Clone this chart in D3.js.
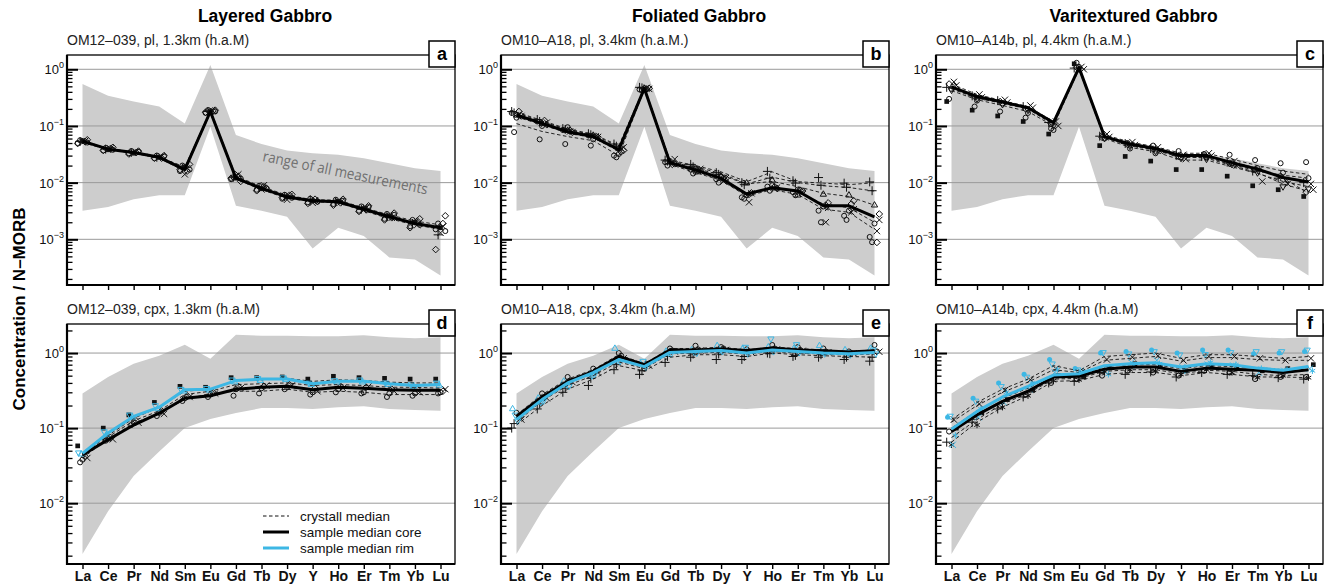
<!DOCTYPE html>
<html>
<head>
<meta charset="utf-8">
<script src="https://cdn.jsdelivr.net/npm/d3@7"></script>
<style>
  body { margin: 0; background: #fff; }
  svg { display: block; font-family: "Liberation Sans", Arial, Helvetica, sans-serif; }
</style>
</head>
<body>
<svg id="chart" width="1328" height="586"></svg>
<script>
// REE pattern, normalised to N-MORB
const elements = ['La', 'Ce', 'Pr', 'Nd', 'Sm', 'Eu', 'Gd', 'Tb', 'Dy', 'Y', 'Ho', 'Er', 'Tm', 'Yb', 'Lu'];
const columnTitles = ['Layered Gabbro', 'Foliated Gabbro', 'Varitextured Gabbro'];
const subtitles = [
  'OM12\u2013039, pl, 1.3km (h.a.M)', 'OM10\u2013A18, pl, 3.4km (h.a.M.)', 'OM10\u2013A14b, pl, 4.4km (h.a.M.)',
  'OM12\u2013039, cpx, 1.3km (h.a.M)', 'OM10\u2013A18, cpx, 3.4km (h.a.M)', 'OM10\u2013A14b, cpx, 4.4km (h.a.M)'
];
const panelLetters = ['a', 'b', 'c', 'd', 'e', 'f'];
const legendLabels = ['crystall median', 'sample median core', 'sample median rim'];

// range of all measurements (grey envelope)
const plUpper = [0.55, 0.34, 0.27, 0.22, 0.11, 1.19, 0.069, 0.048, 0.037, 0.033, 0.031, 0.027, 0.022, 0.018, 0.016];
const plLower = [0.0032, 0.0037, 0.0051, 0.006, 0.006, 0.097, 0.0039, 0.0032, 0.0025, 0.00069, 0.0016, 0.00115, 0.00048, 0.00044, 0.00023];
const cpxUpper = [0.29, 0.48, 0.72, 0.92, 1.29, 0.84, 1.75, 1.7, 1.7, 1.67, 1.67, 1.72, 1.62, 1.57, 1.62];
const cpxLower = [0.0021, 0.0078, 0.023, 0.049, 0.1, 0.132, 0.159, 0.185, 0.185, 0.18, 0.19, 0.195, 0.18, 0.175, 0.17];

// panel a: OM12-039 plagioclase
const aCore = [0.054, 0.039, 0.034, 0.028, 0.017, 0.18, 0.012, 0.0079, 0.0056, 0.0048, 0.0046, 0.0034, 0.0025, 0.0019, 0.0016];
const aCrystals = [
  [0.055, 0.040, 0.035, 0.029, 0.018, 0.19, 0.013, 0.0085, 0.0060, 0.0050, 0.0049, 0.0036, 0.0027, 0.0021, 0.0018],
  [0.051, 0.038, 0.033, 0.027, 0.016, 0.17, 0.0115, 0.0075, 0.0053, 0.0046, 0.0044, 0.0032, 0.0023, 0.0018, 0.0015],
  [0.053, 0.039, 0.034, 0.028, 0.019, 0.18, 0.012, 0.0081, 0.0057, 0.0047, 0.0045, 0.0035, 0.0026, 0.0019, 0.0017]
];
const aSpots = [
  [0.050, 0.037, 0.033, 0.027, 0.016, 0.17, 0.0115, 0.0075, 0.0052, 0.0045, 0.0042, 0.0032, 0.0023, 0.0017, 0.0015],
  [0.056, 0.041, 0.036, 0.030, 0.020, 0.19, 0.0125, 0.0088, 0.0061, 0.0052, 0.0050, 0.0038, 0.0028, 0.0022, 0.0019],
  [0.052, 0.038, 0.034, 0.028, 0.014, 0.18, 0.013, 0.0076, 0.0050, 0.0044, 0.0047, 0.0033, 0.0026, 0.0020, 0.0013],
  [0.054, 0.040, 0.035, 0.029, 0.018, 0.185, 0.014, 0.0090, 0.0058, 0.0049, 0.0045, 0.0036, 0.0024, 0.0018, 0.0017],
  [0.057, 0.042, 0.036, 0.030, 0.021, 0.19, 0.0105, 0.0080, 0.0062, 0.0047, 0.0051, 0.0039, 0.0029, 0.0023, 0.0026],
  [0.049, 0.037, 0.032, 0.027, 0.017, 0.175, 0.0120, 0.0072, 0.0055, 0.0043, 0.0040, 0.0031, 0.0022, 0.0016, 0.00066],
  [0.053, 0.039, 0.034, 0.028, 0.018, 0.18, 0.0125, 0.0082, 0.0057, 0.0050, 0.0046, 0.0034, 0.0025, 0.0019, 0.0012],
  [0.055, 0.038, 0.033, 0.028, 0.019, 0.18, 0.0120, 0.0078, 0.0056, 0.0048, 0.0047, 0.0035, 0.0026, 0.0020, 0.0016],
  [0.053, 0.040, 0.034, 0.027, 0.016, 0.185, 0.0130, 0.0085, 0.0060, 0.0051, 0.0044, 0.0033, 0.0024, 0.0021, 0.0019],
  [0.051, 0.038, 0.035, 0.029, 0.017, 0.18, 0.0118, 0.0079, 0.0054, 0.0046, 0.0048, 0.0037, 0.0027, 0.0018, 0.0014]
];
const aSpotSymbols = ['o', 'o', 'x', 'x', 'd', 'd', '+', 's', 'd', 'o'];

// panel b: OM10-A18 plagioclase
const bCore = [0.156, 0.111, 0.079, 0.065, 0.038, 0.46, 0.0225, 0.0167, 0.012, 0.0063, 0.0081, 0.0071, 0.0039, 0.0039, 0.0025];
const bCrystals = [
  [0.175, 0.125, 0.088, 0.072, 0.045, 0.48, 0.025, 0.020, 0.0155, 0.0104, 0.0155, 0.0104, 0.0098, 0.0092, 0.0100],
  [0.170, 0.120, 0.086, 0.070, 0.043, 0.47, 0.024, 0.019, 0.0145, 0.0095, 0.0125, 0.0100, 0.0088, 0.0082, 0.0071],
  [0.160, 0.115, 0.082, 0.067, 0.040, 0.47, 0.024, 0.018, 0.0135, 0.0095, 0.0105, 0.0085, 0.0065, 0.0057, 0.0040],
  [0.110, 0.080, 0.065, 0.055, 0.030, 0.44, 0.021, 0.015, 0.011, 0.0058, 0.0075, 0.0062, 0.0034, 0.0030, 0.0015],
  [0.145, 0.105, 0.075, 0.062, 0.036, 0.45, 0.022, 0.016, 0.0110, 0.0060, 0.0080, 0.0068, 0.0042, 0.0036, 0.0020]
];
const bSpots = [
  [0.17, 0.12, 0.085, 0.068, 0.030, 0.44, 0.023, 0.017, 0.0115, 0.0055, 0.0085, 0.0068, 0.0032, 0.0026, 0.0011],
  [0.078, 0.058, 0.048, 0.045, 0.028, 0.42, 0.020, 0.0145, 0.010, 0.0052, 0.0072, 0.0060, 0.0020, 0.0022, 0.00089],
  [0.14, 0.10, 0.095, 0.058, 0.032, 0.46, 0.024, 0.0155, 0.0125, 0.0060, 0.0090, 0.0075, 0.0038, 0.0032, 0.0019],
  [0.16, 0.11, 0.08, 0.066, 0.040, 0.47, 0.022, 0.016, 0.0105, 0.0045, 0.0078, 0.0070, 0.0020, 0.0030, 0.0014],
  [0.15, 0.115, 0.078, 0.064, 0.042, 0.45, 0.026, 0.0175, 0.0120, 0.0065, 0.0082, 0.0066, 0.0036, 0.0034, 0.0022],
  [0.18, 0.13, 0.09, 0.073, 0.048, 0.48, 0.025, 0.021, 0.0150, 0.0100, 0.0158, 0.0108, 0.0123, 0.0098, 0.0103],
  [0.17, 0.12, 0.087, 0.070, 0.044, 0.47, 0.024, 0.019, 0.0140, 0.0092, 0.0120, 0.0098, 0.0090, 0.0083, 0.0072],
  [0.155, 0.11, 0.083, 0.068, 0.040, 0.46, 0.023, 0.018, 0.013, 0.0098, 0.0110, 0.0060, 0.0062, 0.0060, 0.0040],
  [0.18, 0.125, 0.084, 0.066, 0.035, 0.45, 0.021, 0.016, 0.012, 0.0062, 0.0085, 0.0073, 0.0040, 0.0042, 0.00088],
  [0.15, 0.105, 0.077, 0.063, 0.037, 0.46, 0.0215, 0.0165, 0.0118, 0.0066, 0.0079, 0.0071, 0.0044, 0.0048, 0.0028]
];
const bSpotSymbols = ['o', 'o', 'o', 'x', 'x', '+', '+', 't', 'd', 'd'];

// panel c: OM10-A14b plagioclase
const cCore = [0.49, 0.33, 0.265, 0.21, 0.115, 1.07, 0.065, 0.048, 0.040, 0.030, 0.030, 0.0225, 0.0173, 0.0123, 0.0103];
const cCrystals = [
  [0.55, 0.36, 0.28, 0.22, 0.12, 1.1, 0.070, 0.052, 0.043, 0.033, 0.033, 0.026, 0.020, 0.016, 0.014],
  [0.45, 0.31, 0.25, 0.20, 0.105, 1.05, 0.062, 0.045, 0.037, 0.028, 0.028, 0.021, 0.016, 0.0135, 0.012],
  [0.42, 0.29, 0.23, 0.18, 0.10, 1.0, 0.060, 0.042, 0.035, 0.025, 0.025, 0.019, 0.0145, 0.0105, 0.0085],
  [0.50, 0.34, 0.27, 0.21, 0.11, 1.08, 0.066, 0.047, 0.038, 0.029, 0.027, 0.020, 0.015, 0.0095, 0.0070],
  [0.47, 0.32, 0.26, 0.205, 0.11, 1.05, 0.064, 0.046, 0.039, 0.031, 0.029, 0.023, 0.018, 0.012, 0.0065]
];
const cSpots = [
  [0.27, 0.19, 0.15, 0.12, 0.072, 1.25, 0.045, 0.029, 0.024, 0.017, 0.017, 0.013, 0.0088, 0.0075, 0.0057],
  [0.30, 0.22, 0.18, 0.14, 0.09, 1.3, 0.068, 0.050, 0.045, 0.036, 0.032, 0.031, 0.025, 0.022, 0.023],
  [0.45, 0.28, 0.25, 0.17, 0.085, 1.1, 0.060, 0.040, 0.033, 0.028, 0.028, 0.022, 0.018, 0.015, 0.012],
  [0.60, 0.36, 0.29, 0.23, 0.12, 1.1, 0.072, 0.052, 0.042, 0.031, 0.033, 0.024, 0.017, 0.011, 0.0095],
  [0.52, 0.32, 0.26, 0.21, 0.10, 1.0, 0.064, 0.046, 0.036, 0.026, 0.030, 0.020, 0.0105, 0.0095, 0.0075],
  [0.48, 0.34, 0.28, 0.22, 0.115, 1.05, 0.066, 0.049, 0.040, 0.030, 0.029, 0.023, 0.016, 0.012, 0.010],
  [0.55, 0.33, 0.27, 0.20, 0.11, 1.08, 0.063, 0.047, 0.039, 0.029, 0.031, 0.022, 0.017, 0.013, 0.0068],
  [0.43, 0.30, 0.24, 0.19, 0.10, 1.02, 0.061, 0.044, 0.036, 0.027, 0.026, 0.021, 0.015, 0.0085, 0.0078]
];
const cSpotSymbols = ['s', 'o', 'o', 'x', 'x', '+', 'd', 'v'];

// panel d: OM12-039 clinopyroxene
const dCore = [0.044, 0.07, 0.11, 0.158, 0.25, 0.27, 0.33, 0.35, 0.36, 0.325, 0.35, 0.34, 0.325, 0.32, 0.32];
const dRim = [0.046, 0.086, 0.143, 0.19, 0.325, 0.33, 0.43, 0.45, 0.45, 0.39, 0.42, 0.42, 0.39, 0.37, 0.38];
const dCrystals = [
  [0.045, 0.08, 0.135, 0.19, 0.31, 0.33, 0.43, 0.44, 0.46, 0.42, 0.44, 0.43, 0.41, 0.40, 0.40],
  [0.040, 0.072, 0.115, 0.16, 0.24, 0.29, 0.31, 0.31, 0.33, 0.30, 0.31, 0.30, 0.28, 0.28, 0.28],
  [0.043, 0.076, 0.125, 0.17, 0.28, 0.31, 0.38, 0.39, 0.40, 0.37, 0.38, 0.37, 0.35, 0.35, 0.34]
];
const dSpots = [
  [0.058, 0.10, 0.15, 0.22, 0.36, 0.35, 0.47, 0.47, 0.48, 0.45, 0.49, 0.47, 0.46, 0.45, 0.45],
  [0.035, 0.068, 0.11, 0.145, 0.23, 0.26, 0.27, 0.29, 0.33, 0.28, 0.30, 0.29, 0.26, 0.27, 0.29],
  [0.038, 0.072, 0.12, 0.16, 0.25, 0.28, 0.33, 0.34, 0.35, 0.30, 0.33, 0.30, 0.29, 0.29, 0.30],
  [0.042, 0.075, 0.125, 0.17, 0.27, 0.30, 0.36, 0.36, 0.38, 0.34, 0.36, 0.35, 0.33, 0.33, 0.31],
  [0.040, 0.071, 0.118, 0.155, 0.26, 0.29, 0.34, 0.37, 0.37, 0.31, 0.34, 0.36, 0.31, 0.30, 0.33]
];
const dSpotSymbols = ['s', 'o', 'o', 'd', 'x'];
const dRimSpots = [
  [0.047, 0.09, 0.15, 0.20, 0.33, 0.34, 0.44, 0.46, 0.47, 0.40, 0.43, 0.44, 0.40, 0.38, 0.40],
  [0.045, 0.082, 0.14, 0.18, 0.31, 0.32, 0.41, 0.43, 0.44, 0.38, 0.41, 0.41, 0.38, 0.36, 0.37]
];
const dRimSymbols = ['v', 't'];

// panel e: OM10-A18 clinopyroxene
const eCore = [0.143, 0.26, 0.42, 0.57, 0.9, 0.7, 1.1, 1.1, 1.13, 1.08, 1.17, 1.1, 1.07, 1.03, 1.07];
const eRim = [0.13, 0.24, 0.40, 0.55, 0.82, 0.66, 1.02, 1.05, 1.08, 1.0, 1.1, 1.05, 1.0, 0.98, 1.02];
const eCrystals = [
  [0.11, 0.20, 0.33, 0.45, 0.68, 0.58, 0.88, 0.95, 0.95, 0.90, 1.0, 0.95, 0.92, 0.90, 0.88],
  [0.12, 0.23, 0.37, 0.50, 0.76, 0.62, 0.98, 1.0, 1.02, 0.97, 1.05, 1.0, 0.97, 0.95, 0.97],
  [0.15, 0.28, 0.45, 0.60, 0.95, 0.72, 1.15, 1.15, 1.2, 1.1, 1.2, 1.15, 1.1, 1.05, 1.1]
];
const eSpots = [
  [0.10, 0.18, 0.30, 0.37, 0.60, 0.52, 0.75, 0.88, 0.82, 0.82, 1.0, 0.9, 0.88, 0.82, 0.78],
  [0.115, 0.21, 0.34, 0.46, 0.70, 0.58, 0.90, 0.97, 0.97, 0.90, 0.98, 0.93, 0.95, 0.88, 0.88],
  [0.16, 0.29, 0.48, 0.62, 1.0, 0.62, 1.15, 1.25, 1.2, 1.12, 1.28, 1.2, 1.15, 1.05, 1.28],
  [0.14, 0.26, 0.43, 0.58, 0.92, 0.72, 1.08, 1.12, 1.15, 1.05, 1.15, 1.1, 1.05, 1.0, 1.05],
  [0.13, 0.25, 0.41, 0.55, 0.85, 0.68, 1.05, 1.08, 1.1, 1.02, 1.12, 1.07, 1.02, 0.99, 1.04]
];
const eSpotSymbols = ['+', '+', 'o', 'o', 'x'];
const eRimSpots = [
  [0.18, 0.25, 0.42, 0.52, 1.15, 0.72, 1.05, 1.1, 1.25, 1.15, 1.2, 1.15, 1.25, 1.1, 1.15],
  [0.15, 0.22, 0.38, 0.50, 0.80, 0.78, 1.0, 1.03, 1.1, 1.2, 1.55, 1.3, 1.05, 1.02, 1.1],
  [0.125, 0.23, 0.36, 0.52, 0.78, 0.65, 0.98, 1.0, 1.05, 0.98, 1.05, 1.02, 0.98, 0.95, 0.98]
];
const eRimSymbols = ['t', 'v', 'v'];

// panel f: OM10-A14b clinopyroxene
const fCore = [0.09, 0.15, 0.227, 0.31, 0.48, 0.49, 0.61, 0.65, 0.65, 0.57, 0.63, 0.61, 0.59, 0.55, 0.6];
const fRim = [0.097, 0.167, 0.26, 0.36, 0.51, 0.53, 0.68, 0.72, 0.74, 0.65, 0.72, 0.70, 0.63, 0.59, 0.66];
const fCrystals = [
  [0.13, 0.22, 0.33, 0.45, 0.68, 0.58, 0.90, 0.95, 1.0, 0.85, 0.95, 0.95, 0.90, 0.85, 0.90],
  [0.12, 0.20, 0.30, 0.41, 0.60, 0.55, 0.80, 0.85, 0.90, 0.78, 0.87, 0.87, 0.82, 0.80, 0.80],
  [0.065, 0.12, 0.19, 0.27, 0.42, 0.43, 0.52, 0.55, 0.55, 0.50, 0.55, 0.52, 0.48, 0.48, 0.47],
  [0.075, 0.13, 0.21, 0.29, 0.45, 0.46, 0.57, 0.60, 0.60, 0.53, 0.59, 0.57, 0.52, 0.50, 0.52],
  [0.10, 0.17, 0.25, 0.34, 0.52, 0.50, 0.66, 0.70, 0.70, 0.62, 0.68, 0.66, 0.64, 0.60, 0.65]
];
const fSpots = [
  [0.065, 0.12, 0.18, 0.26, 0.40, 0.42, 0.55, 0.52, 0.56, 0.48, 0.55, 0.52, 0.50, 0.47, 0.45],
  [0.09, 0.14, 0.20, 0.28, 0.40, 0.45, 0.50, 0.58, 0.55, 0.50, 0.58, 0.55, 0.45, 0.48, 0.48],
  [0.06, 0.11, 0.19, 0.27, 0.43, 0.44, 0.56, 0.60, 0.58, 0.52, 0.60, 0.55, 0.47, 0.50, 0.47],
  [0.13, 0.21, 0.32, 0.44, 0.62, 0.55, 0.82, 0.88, 0.92, 0.80, 0.90, 0.90, 0.85, 0.80, 0.85],
  [0.10, 0.16, 0.24, 0.32, 0.50, 0.48, 0.66, 0.72, 0.68, 0.58, 0.65, 0.62, 0.58, 0.62, 0.70]
];
const fSpotSymbols = ['+', 'o', '*', 'x', 's'];
const fRimSpots = [
  [0.14, 0.25, 0.40, 0.52, 0.82, 0.62, 1.0, 1.05, 1.1, 1.0, 1.1, 1.1, 0.98, 1.0, 1.05],
  [0.145, 0.23, 0.36, 0.48, 0.72, 0.60, 1.02, 0.98, 1.05, 0.95, 0.96, 1.02, 1.05, 1.05, 1.1],
  [0.06, 0.14, 0.22, 0.33, 0.55, 0.58, 0.62, 0.75, 0.80, 0.65, 0.70, 0.68, 0.55, 0.58, 0.62],
  [0.08, 0.18, 0.30, 0.40, 0.60, 0.56, 0.52, 0.68, 0.72, 0.58, 0.75, 0.70, 0.62, 0.60, 0.58]
];
const fRimSymbols = ['c', 'v', 'x', '*'];

const panels = [
  { core: aCore, rim: null, crystals: aCrystals, spots: aSpots, syms: aSpotSymbols, rimSpots: [], rimSyms: [], upper: plUpper, lower: plLower },
  { core: bCore, rim: null, crystals: bCrystals, spots: bSpots, syms: bSpotSymbols, rimSpots: [], rimSyms: [], upper: plUpper, lower: plLower },
  { core: cCore, rim: null, crystals: cCrystals, spots: cSpots, syms: cSpotSymbols, rimSpots: [], rimSyms: [], upper: plUpper, lower: plLower },
  { core: dCore, rim: dRim, crystals: dCrystals, spots: dSpots, syms: dSpotSymbols, rimSpots: dRimSpots, rimSyms: dRimSymbols, upper: cpxUpper, lower: cpxLower },
  { core: eCore, rim: eRim, crystals: eCrystals, spots: eSpots, syms: eSpotSymbols, rimSpots: eRimSpots, rimSyms: eRimSymbols, upper: cpxUpper, lower: cpxLower },
  { core: fCore, rim: fRim, crystals: fCrystals, spots: fSpots, syms: fSpotSymbols, rimSpots: fRimSpots, rimSyms: fRimSymbols, upper: cpxUpper, lower: cpxLower }
];

const CYAN = '#3db7e4';
const colLeft = [67, 501, 936];
const colRight = [455, 889, 1323];
const rowTop = [55, 324];
const rowBottom = [285, 564];
const rowDomain = [[Math.pow(10, -3.806), Math.pow(10, 0.252)], [Math.pow(10, -2.81), Math.pow(10, 0.387)]];

const svg = d3.select('#chart');

const symbolTypes = {
  o: d3.symbolCircle, x: d3.symbolTimes, '+': d3.symbolPlus, d: d3.symbolDiamond2,
  t: d3.symbolTriangle2, v: d3.symbolTriangle2, s: d3.symbolSquare, '*': d3.symbolAsterisk, c: d3.symbolCircle
};

function drawSymbol(g, sym, px, py, color) {
  const size = sym === 's' ? 22 : sym === 'o' || sym === 'c' ? 20 : 28;
  const p = g.append('path')
    .attr('d', d3.symbol().type(symbolTypes[sym]).size(size)())
    .attr('transform', `translate(${px},${py})` + (sym === 'v' ? ' rotate(180)' : ''));
  if (sym === 's' || sym === 'c') p.attr('fill', color).attr('stroke', 'none');
  else p.attr('fill', 'none').attr('stroke', color).attr('stroke-width', 1);
}

function superLabel(g, x, y, exp) {
  const t = g.append('text').attr('x', x).attr('y', y).attr('text-anchor', 'end')
    .attr('font-size', 13).attr('fill', '#111');
  t.append('tspan').text('10');
  t.append('tspan').attr('dy', -6).attr('font-size', 9).text(exp === 0 ? '0' : '\u2212' + Math.abs(exp));
}

panels.forEach((p, i) => {
  const col = i % 3, row = Math.floor(i / 3);
  const left = colLeft[col], right = colRight[col], top = rowTop[row], bottom = rowBottom[row];

  const x = d3.scalePoint().domain(elements).range([left + 15.5, right - 14.5]);
  const y = d3.scaleLog().domain(rowDomain[row]).range([bottom, top]);

  const g = svg.append('g');

  // grey envelope
  const area = d3.area()
    .x((d, k) => x(elements[k]))
    .y0((d, k) => y(p.lower[k]))
    .y1((d, k) => y(p.upper[k]));
  g.append('path').datum(p.upper).attr('d', area).attr('fill', '#cdcdcd');

  // decade grid
  const lo = Math.ceil(Math.log10(rowDomain[row][0])), hi = Math.floor(Math.log10(rowDomain[row][1]));
  const majors = d3.range(lo, hi + 1).map(e => Math.pow(10, e));
  const minors = [];
  d3.range(lo - 1, hi + 1).forEach(e => {
    for (let m = 2; m <= 9; m++) {
      const v = m * Math.pow(10, e);
      if (v > rowDomain[row][0] && v < rowDomain[row][1]) minors.push(v);
    }
  });
  g.selectAll('.grid').data(majors).enter().append('line')
    .attr('x1', left).attr('x2', right)
    .attr('y1', d => y(d)).attr('y2', d => y(d))
    .attr('stroke', '#9a9a9a').attr('stroke-width', 1);

  if (i === 0) {
    g.append('text')
      .attr('transform', 'translate(262,161) rotate(11.5)')
      .attr('font-family', '"Open Sans", "DejaVu Sans", sans-serif')
      .attr('font-size', 15).attr('fill', '#6f6f6f')
      .attr('textLength', 168).attr('lengthAdjust', 'spacingAndGlyphs')
      .text('range of all measurements');
  }

  // individual analyses
  p.spots.forEach((s, k) => {
    const dx = ((k % 5) - 2) * 2.4;
    s.forEach((v, j) => drawSymbol(g, p.syms[k], x(elements[j]) + dx, y(v), '#111'));
  });
  p.rimSpots.forEach((s, k) => {
    const dx = ((k % 4) - 1.5) * 2.6;
    s.forEach((v, j) => drawSymbol(g, p.rimSyms[k], x(elements[j]) + dx, y(v), CYAN));
  });

  const line = d3.line().x((d, k) => x(elements[k])).y(d => y(d));

  // crystal medians
  p.crystals.forEach(c => {
    g.append('path').datum(c).attr('d', line).attr('fill', 'none')
      .attr('stroke', '#111').attr('stroke-width', 0.9).attr('stroke-dasharray', '3.5,2.5');
  });

  // sample medians
  g.append('path').datum(p.core).attr('d', line).attr('fill', 'none')
    .attr('stroke', '#000').attr('stroke-width', 3).attr('stroke-linejoin', 'round');
  if (p.rim) {
    g.append('path').datum(p.rim).attr('d', line).attr('fill', 'none')
      .attr('stroke', CYAN).attr('stroke-width', 3).attr('stroke-linejoin', 'round');
  }

  // frame
  g.append('rect').attr('x', left).attr('y', top).attr('width', right - left).attr('height', bottom - top)
    .attr('fill', 'none').attr('stroke', '#000').attr('stroke-width', 1.3);
  g.append('line').attr('x1', left).attr('x2', left).attr('y1', top).attr('y2', bottom + 1)
    .attr('stroke', '#000').attr('stroke-width', 2.2);
  g.append('line').attr('x1', left - 1).attr('x2', right).attr('y1', bottom).attr('y2', bottom)
    .attr('stroke', '#000').attr('stroke-width', 2.2);

  // y axis ticks (inside)
  const yMajor = g.append('g').attr('transform', `translate(${left},0)`)
    .call(d3.axisLeft(y).tickValues(majors).tickSize(-11).tickFormat(''));
  yMajor.select('.domain').remove();
  yMajor.selectAll('line').attr('stroke-width', 2);
  const yMinor = g.append('g').attr('transform', `translate(${left},0)`)
    .call(d3.axisLeft(y).tickValues(minors).tickSize(-5.5).tickFormat(''));
  yMinor.select('.domain').remove();
  yMinor.selectAll('line').attr('stroke-width', 1.3);
  majors.forEach(v => superLabel(g, left - 3, y(v) + 5, Math.round(Math.log10(v))));

  // x axis
  const xAxis = g.append('g').attr('transform', `translate(0,${bottom})`)
    .call(d3.axisBottom(x).tickSize(5).tickPadding(2).tickFormat(row === 1 ? d => d : ''));
  xAxis.select('.domain').remove();
  xAxis.selectAll('line').attr('stroke-width', 1.4);
  xAxis.selectAll('text').attr('font-size', 14).attr('font-weight', 'bold')
    .attr('font-family', '"Liberation Sans", Arial, sans-serif').attr('fill', '#111');

  // subtitle
  svg.append('text').attr('x', left).attr('y', top - 10).attr('font-size', 14).attr('fill', '#222')
    .text(subtitles[i]);

  // panel letter
  svg.append('rect').attr('x', right - 26).attr('y', top - 14).attr('width', 26).attr('height', 26)
    .attr('fill', '#fff').attr('stroke', '#000').attr('stroke-width', 1.5);
  svg.append('text').attr('x', right - 13).attr('y', top + 5).attr('text-anchor', 'middle')
    .attr('font-size', 18).attr('font-weight', 'bold').text(panelLetters[i]);

  if (row === 0) {
    svg.append('text').attr('x', (left + right) / 2 + 4).attr('y', 22).attr('text-anchor', 'middle')
      .attr('font-size', 17.5).attr('font-weight', 'bold').text(columnTitles[col]);
  }

  // legend in panel d
  if (i === 3) {
    const ly = [516, 532, 548];
    const styles = [
      { stroke: '#111', width: 1, dash: '3.5,2.5' },
      { stroke: '#000', width: 3, dash: null },
      { stroke: CYAN, width: 3, dash: null }
    ];
    legendLabels.forEach((lab, k) => {
      g.append('line').attr('x1', 263).attr('x2', 289).attr('y1', ly[k]).attr('y2', ly[k])
        .attr('stroke', styles[k].stroke).attr('stroke-width', styles[k].width)
        .attr('stroke-dasharray', styles[k].dash);
      g.append('text').attr('x', 300).attr('y', ly[k] + 5).attr('font-size', 13.5).attr('fill', '#111')
        .text(lab);
    });
  }
});

// shared y title
svg.append('text').attr('transform', 'translate(25,309) rotate(-90)').attr('text-anchor', 'middle')
  .attr('font-size', 17).attr('font-weight', 'bold').text('Concentration / N\u2013MORB');
</script>
</body>
</html>
